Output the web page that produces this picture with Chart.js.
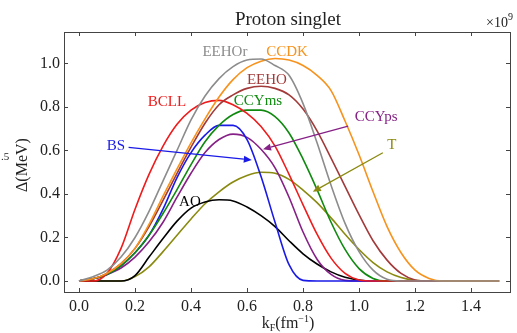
<!DOCTYPE html>
<html>
<head>
<meta charset="utf-8">
<script src="https://cdn.jsdelivr.net/npm/chart.js@4.4.1/dist/chart.umd.min.js"></script>
<style>
  html, body { margin: 0; padding: 0; background: #fff; }
  #wrap { width: 517px; height: 333px; position: relative; }
</style>
</head>
<body>
<div id="wrap"><canvas id="gapChart"></canvas></div>
<script>
// Fermi momentum grid (fm^-1)
const kF = [0.00, 0.05, 0.10, 0.15, 0.20, 0.25, 0.30, 0.35, 0.40, 0.45,
            0.50, 0.55, 0.60, 0.65, 0.70, 0.75, 0.80, 0.85, 0.90, 0.95,
            1.00, 1.05, 1.10, 1.15, 1.20, 1.25, 1.30, 1.35, 1.40, 1.45, 1.50];

// pairing gap Delta (MeV) for each force
const gapEEHOr = [0, 0.02, 0.05, 0.11, 0.20, 0.32, 0.46, 0.60, 0.74, 0.85,
                  0.93, 0.985, 1.015, 1.02, 0.99, 0.945, 0.815, 0.635, 0.44, 0.265,
                  0.135, 0.05, 0.008, 0, 0, 0, 0, 0, 0, 0, 0];
const gapCCDK  = [0, 0.01, 0.035, 0.08, 0.15, 0.26, 0.39, 0.515, 0.635, 0.745,
                  0.845, 0.925, 0.98, 1.01, 1.022, 1.015, 0.99, 0.945, 0.875, 0.735,
                  0.58, 0.41, 0.25, 0.13, 0.05, 0.012, 0, 0, 0, 0, 0];
const gapEEHO  = [0, 0.01, 0.035, 0.08, 0.15, 0.25, 0.37, 0.495, 0.615, 0.725,
                  0.81, 0.855, 0.885, 0.895, 0.885, 0.855, 0.79, 0.69, 0.565, 0.435,
                  0.305, 0.185, 0.096, 0.035, 0.005, 0, 0, 0, 0, 0, 0];
const gapBCLL  = [0, 0, 0.035, 0.15, 0.33, 0.49, 0.62, 0.72, 0.785, 0.82,
                  0.83, 0.81, 0.77, 0.71, 0.62, 0.49, 0.35, 0.215, 0.105, 0.035,
                  0.005, 0, 0, 0, 0, 0, 0, 0, 0, 0, 0];
const gapCCYms = [0, 0.01, 0.03, 0.07, 0.13, 0.21, 0.31, 0.42, 0.535, 0.64,
                  0.715, 0.765, 0.785, 0.785, 0.755, 0.68, 0.56, 0.42, 0.27, 0.145,
                  0.057, 0.012, 0, 0, 0, 0, 0, 0, 0, 0, 0];
const gapBS    = [0, 0.01, 0.03, 0.07, 0.13, 0.21, 0.33, 0.475, 0.59, 0.67,
                  0.715, 0.715, 0.65, 0.48, 0.27, 0.075, 0.003, 0, 0, 0,
                  0, 0, 0, 0, 0, 0, 0, 0, 0, 0, 0];
const gapCCYps = [0, 0.01, 0.03, 0.06, 0.11, 0.18, 0.27, 0.385, 0.495, 0.59,
                  0.65, 0.675, 0.66, 0.605, 0.52, 0.385, 0.225, 0.10, 0.03, 0.003,
                  0, 0, 0, 0, 0, 0, 0, 0, 0, 0, 0];
const gapAO    = [0, 0, 0, 0, 0.025, 0.11, 0.195, 0.275, 0.335, 0.363,
                  0.373, 0.368, 0.34, 0.30, 0.25, 0.185, 0.125, 0.078, 0.042, 0.017,
                  0.004, 0, 0, 0, 0, 0, 0, 0, 0, 0, 0];
const gapT     = [0, 0, 0, 0, 0.02, 0.065, 0.135, 0.21, 0.285, 0.355,
                  0.41, 0.455, 0.485, 0.50, 0.495, 0.467, 0.418, 0.36, 0.29, 0.215,
                  0.145, 0.085, 0.042, 0.016, 0.003, 0, 0, 0, 0, 0, 0];

const xTicks = [0.0, 0.2, 0.4, 0.6, 0.8, 1.0, 1.2, 1.4];
const xTickLabels = ['0.0', '0.2', '0.4', '0.6', '0.8', '1.0', '1.2', '1.4'];
const yTicks = [0.0, 0.2, 0.4, 0.6, 0.8, 1.0];
const yTickLabels = ['0.0', '0.2', '0.4', '0.6', '0.8', '1.0'];

const SERIF = '"Liberation Serif", "DejaVu Serif", serif';

const series = [
  { name: 'EEHOr', data: gapEEHOr, color: '#8c8c8c' },
  { name: 'CCDK',  data: gapCCDK,  color: '#f7921c' },
  { name: 'EEHO',  data: gapEEHO,  color: '#a33a3a' },
  { name: 'BCLL',  data: gapBCLL,  color: '#ee1c1c' },
  { name: 'CCYms', data: gapCCYms, color: '#0f8a0f' },
  { name: 'BS',    data: gapBS,    color: '#1a1ae6' },
  { name: 'CCYps', data: gapCCYps, color: '#862086' },
  { name: 'AO',    data: gapAO,    color: '#000000' },
  { name: 'T',     data: gapT,     color: '#8a8a10' }
];

// text labels, some with arrows pointing at their curve (data coordinates)
const notes = [
  { text: 'EEHOr', color: '#8c8c8c', x: 0.521, y: 1.052 },
  { text: 'CCDK',  color: '#f7921c', x: 0.743, y: 1.052 },
  { text: 'EEHO',  color: '#a33a3a', x: 0.671, y: 0.923 },
  { text: 'BCLL',  color: '#ee1c1c', x: 0.314, y: 0.824 },
  { text: 'CCYms', color: '#0f8a0f', x: 0.639, y: 0.827 },
  { text: 'BS',    color: '#1a1ae6', x: 0.132, y: 0.620, from: [0.177, 0.614], to: [0.617, 0.556] },
  { text: 'CCYps', color: '#862086', x: 1.061, y: 0.752, from: [0.961, 0.712], to: [0.657, 0.605] },
  { text: 'T',     color: '#8a8a10', x: 1.117, y: 0.625, from: [1.085, 0.589], to: [0.835, 0.410] },
  { text: 'AO',    color: '#000000', x: 0.396, y: 0.364 }
];

function arrow(ctx, x1, y1, x2, y2, color) {
  const ang = Math.atan2(y2 - y1, x2 - x1);
  const hl = 8, hw = 3.5;
  const bx = x2 - hl * Math.cos(ang), by = y2 - hl * Math.sin(ang);
  ctx.strokeStyle = color;
  ctx.fillStyle = color;
  ctx.lineWidth = 1.3;
  ctx.beginPath();
  ctx.moveTo(x1, y1);
  ctx.lineTo(bx, by);
  ctx.stroke();
  ctx.beginPath();
  ctx.moveTo(x2, y2);
  ctx.lineTo(bx + hw * Math.sin(ang), by - hw * Math.cos(ang));
  ctx.lineTo(bx - hw * Math.sin(ang), by + hw * Math.cos(ang));
  ctx.closePath();
  ctx.fill();
}

// draws a run of [text, size, dy] pieces centred on cx
function richText(ctx, parts, cx, cy) {
  let w = 0;
  parts.forEach(p => { ctx.font = p[1] + 'px ' + SERIF; w += ctx.measureText(p[0]).width; });
  let x = cx - w / 2;
  ctx.textAlign = 'left';
  parts.forEach(p => {
    ctx.font = p[1] + 'px ' + SERIF;
    ctx.fillText(p[0], x, cy + p[2]);
    x += ctx.measureText(p[0]).width;
  });
}

const framePlugin = {
  id: 'frame',
  afterDatasetsDraw(chart) {
    const ctx = chart.ctx;
    const a = chart.chartArea;
    const xs = chart.scales.x, ys = chart.scales.y;
    ctx.save();
    // frame
    ctx.strokeStyle = '#444';
    ctx.lineWidth = 1;
    ctx.strokeRect(a.left + 0.5, a.top + 0.5, a.right - a.left, a.bottom - a.top);
    // inward ticks on all sides
    ctx.beginPath();
    xTicks.forEach(v => {
      const px = Math.round(xs.getPixelForValue(v)) + 0.5;
      ctx.moveTo(px, a.bottom); ctx.lineTo(px, a.bottom - 4);
      ctx.moveTo(px, a.top); ctx.lineTo(px, a.top + 4);
    });
    yTicks.forEach(v => {
      const py = Math.round(ys.getPixelForValue(v)) + 0.5;
      ctx.moveTo(a.left, py); ctx.lineTo(a.left + 4, py);
      ctx.moveTo(a.right, py); ctx.lineTo(a.right - 4, py);
    });
    ctx.stroke();

    // curve labels and arrows
    ctx.textBaseline = 'middle';
    ctx.font = '15px ' + SERIF;
    notes.forEach(n => {
      if (n.from) {
        arrow(ctx, xs.getPixelForValue(n.from[0]), ys.getPixelForValue(n.from[1]),
              xs.getPixelForValue(n.to[0]), ys.getPixelForValue(n.to[1]), n.color);
      }
      ctx.fillStyle = n.color;
      ctx.textAlign = 'center';
      ctx.fillText(n.text, xs.getPixelForValue(n.x), ys.getPixelForValue(n.y));
    });

    // title, offset and axis labels
    ctx.fillStyle = '#222';
    ctx.textBaseline = 'alphabetic';
    ctx.textAlign = 'center';
    ctx.font = '19px ' + SERIF;
    ctx.fillText('Proton singlet', 288, 25);
    ctx.textAlign = 'right';
    ctx.font = '10px ' + SERIF;
    const w9 = ctx.measureText('9').width;
    ctx.fillText('9', 513, 20);
    ctx.font = '14px ' + SERIF;
    ctx.fillText('\u00d710', 513 - w9, 27);

    richText(ctx, [['k', 16, 0], ['F', 10, 3], ['(fm', 16, 0], ['\u22121', 10, -6], [')', 16, 0]], 288, 328);

    ctx.save();
    ctx.translate(27, 165);
    ctx.rotate(-Math.PI / 2);
    ctx.textAlign = 'center';
    ctx.font = '16px ' + SERIF;
    ctx.fillText('\u0394(MeV)', 0, 0);
    ctx.restore();

    ctx.textAlign = 'left';
    ctx.font = '11px ' + SERIF;
    ctx.fillText('.5', 1, 160);
    ctx.restore();
  }
};

new Chart(document.getElementById('gapChart'), {
  type: 'line',
  data: {
    datasets: series.map(s => ({
      label: s.name,
      data: kF.map((k, i) => ({ x: k, y: s.data[i] })),
      borderColor: s.color,
      borderWidth: 1.6,
      pointRadius: 0,
      fill: false,
      cubicInterpolationMode: 'monotone'
    }))
  },
  options: {
    responsive: true,
    maintainAspectRatio: false,
    animation: false,
    layout: { padding: { left: 0, top: 32, right: 7, bottom: 0 } },
    plugins: { legend: { display: false }, tooltip: { enabled: false } },
    scales: {
      x: {
        type: 'linear',
        min: -0.0536,
        max: 1.539,
        afterBuildTicks: s => { s.ticks = xTicks.map(v => ({ value: v })); },
        afterFit: s => { s.height = 41; },
        grid: { display: false, drawTicks: false },
        border: { display: false },
        ticks: {
          padding: 5,
          maxRotation: 0,
          autoSkip: false,
          color: '#222',
          font: { family: SERIF, size: 16 },
          callback: (v) => xTickLabels[xTicks.indexOf(v)]
        }
      },
      y: {
        type: 'linear',
        min: -0.0505,
        max: 1.144,
        afterBuildTicks: s => { s.ticks = yTicks.map(v => ({ value: v })); },
        afterFit: s => { s.width = 64; },
        grid: { display: false, drawTicks: false },
        border: { display: false },
        ticks: {
          padding: 4,
          autoSkip: false,
          color: '#222',
          font: { family: SERIF, size: 16 },
          callback: (v) => yTickLabels[yTicks.indexOf(v)]
        }
      }
    }
  },
  plugins: [framePlugin]
});
</script>
</body>
</html>
